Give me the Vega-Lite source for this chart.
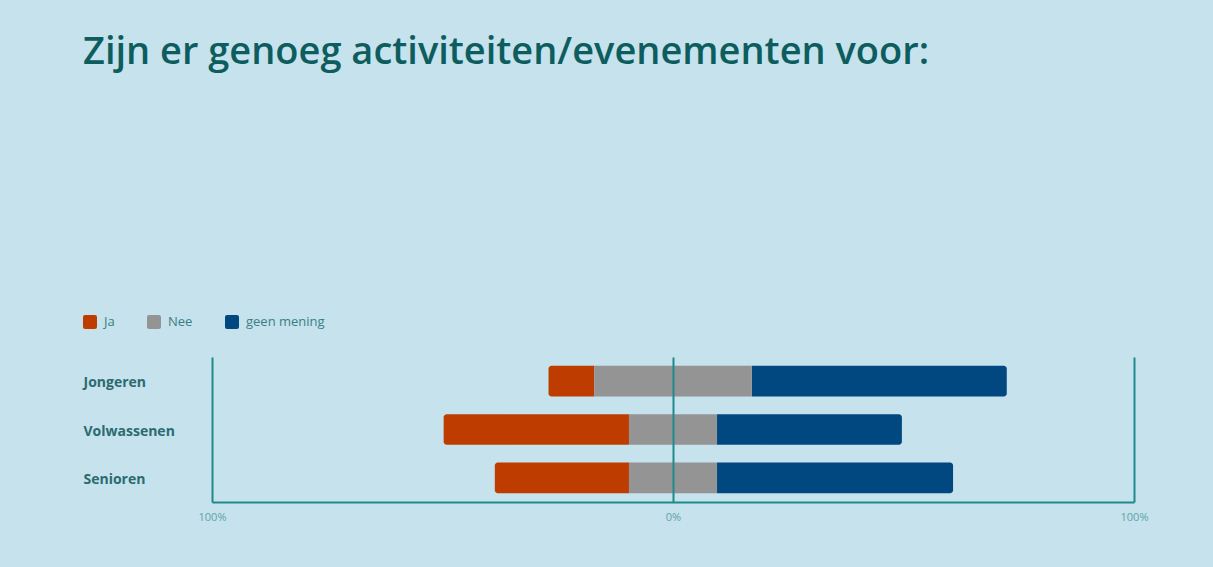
{
  "$schema": "https://vega.github.io/schema/vega-lite/v6.json",
  "width": 922,
  "height": 145,
  "autosize": "none",
  "padding": {"left": 212, "top": 357, "right": 79, "bottom": 65},
  "background": "#c5e2ed",
  "config": {"view": {"stroke": null}, "font": "Open Sans"},
  "title": {
    "text": "Zijn er genoeg activiteiten/evenementen voor:",
    "anchor": "start",
    "frame": "group",
    "dx": -129,
    "dy": -239,
    "fontSize": 38,
    "font": "Open Sans",
    "fontWeight": 600,
    "color": "#0d5d5e"
  },
  "data": {
    "values": [
      {"groep": "Jongeren", "antwoord": "Ja", "aandeel": -9.9},
      {"groep": "Jongeren", "antwoord": "Nee", "aandeel": -17.1},
      {"groep": "Jongeren", "antwoord": "Nee", "aandeel": 17.1},
      {"groep": "Jongeren", "antwoord": "geen mening", "aandeel": 55.3},
      {"groep": "Volwassenen", "antwoord": "Ja", "aandeel": -40.2},
      {"groep": "Volwassenen", "antwoord": "Nee", "aandeel": -9.55},
      {"groep": "Volwassenen", "antwoord": "Nee", "aandeel": 9.55},
      {"groep": "Volwassenen", "antwoord": "geen mening", "aandeel": 40.1},
      {"groep": "Senioren", "antwoord": "Ja", "aandeel": -29.1},
      {"groep": "Senioren", "antwoord": "Nee", "aandeel": -9.55},
      {"groep": "Senioren", "antwoord": "Nee", "aandeel": 9.55},
      {"groep": "Senioren", "antwoord": "geen mening", "aandeel": 51.2}
    ]
  },
  "encoding": {
    "y": {
      "field": "groep",
      "type": "nominal",
      "sort": ["Jongeren", "Volwassenen", "Senioren"],
      "title": null,
      "scale": {"paddingInner": 0.365, "paddingOuter": 0.18},
      "axis": {
        "domain": false,
        "ticks": false,
        "tickSize": 0,
        "labelAlign": "left",
        "labelPadding": 129,
        "labelOffset": 2,
        "labelFont": "Open Sans",
        "labelFontWeight": "bold",
        "labelFontSize": 14,
        "labelColor": "#2b6b6f"
      }
    },
    "x": {
      "field": "start",
      "type": "quantitative",
      "scale": {"domain": [-100, 100], "nice": false},
      "title": null,
      "axis": {
        "values": [-100, 0, 100],
        "labelExpr": "abs(datum.value) + '%'",
        "grid": true,
        "gridColor": "#1f8a8b",
        "gridWidth": 2,
        "gridOpacity": 1,
        "domainColor": "#1f8a8b",
        "domainWidth": 2,
        "ticks": false,
        "tickSize": 0,
        "labelColor": "#62a2a8",
        "labelFontSize": 11,
        "labelPadding": 9,
        "labelFlush": false,
        "zindex": 1
      }
    },
    "x2": {"field": "eind"},
    "color": {
      "field": "antwoord",
      "type": "nominal",
      "scale": {"domain": ["Ja", "Nee", "geen mening"], "range": ["#bf3c00", "#949494", "#00487f"]},
      "legend": {
        "orient": "none",
        "legendX": -129,
        "legendY": -42,
        "direction": "horizontal",
        "title": null,
        "symbolType": "M-0.7,-1L0.7,-1Q1,-1 1,-0.7L1,0.7Q1,1 0.7,1L-0.7,1Q-1,1 -1,0.7L-1,-0.7Q-1,-1 -0.7,-1Z",
        "symbolSize": 196,
        "symbolStrokeWidth": 0,
        "symbolOpacity": 1,
        "labelFont": "Open Sans",
        "labelFontSize": 13,
        "labelColor": "#3a7f84",
        "labelOffset": 7,
        "columnPadding": 32
      }
    }
  },
  "layer": [
    {
      "transform": [
        {"filter": {"field": "aandeel", "lt": 0}},
        {"stack": "aandeel", "groupby": ["groep"], "sort": [{"field": "antwoord", "order": "descending"}], "as": ["start", "eind"]}
      ],
      "layer": [
        {
          "transform": [{"filter": {"field": "antwoord", "equal": "Ja"}}],
          "mark": {"type": "bar", "cornerRadiusTopLeft": 3, "cornerRadiusBottomLeft": 3}
        },
        {
          "transform": [{"filter": {"field": "antwoord", "equal": "Nee"}}],
          "mark": {"type": "bar"}
        }
      ]
    },
    {
      "transform": [
        {"filter": {"field": "aandeel", "gt": 0}},
        {"stack": "aandeel", "groupby": ["groep"], "sort": [{"field": "antwoord", "order": "ascending"}], "as": ["start", "eind"]}
      ],
      "layer": [
        {
          "transform": [{"filter": {"field": "antwoord", "equal": "geen mening"}}],
          "mark": {"type": "bar", "cornerRadiusTopRight": 3, "cornerRadiusBottomRight": 3}
        },
        {
          "transform": [{"filter": {"field": "antwoord", "equal": "Nee"}}],
          "mark": {"type": "bar"}
        }
      ]
    }
  ]
}
